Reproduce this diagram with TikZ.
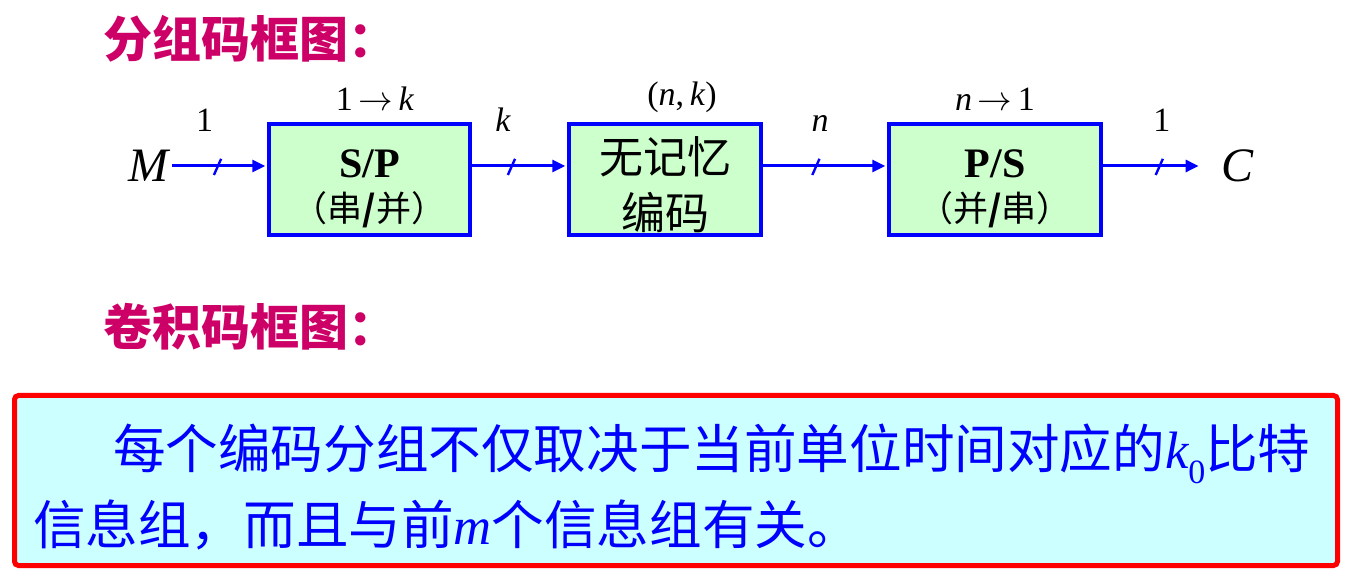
\documentclass[tikz,border=0pt]{standalone}
\usepackage{fontspec}
\usepackage{tikz}
\usetikzlibrary{positioning, arrows.meta}
\newfontfamily\cjk{Noto Sans CJK SC}
\newfontfamily\tnr{Liberation Serif}
\definecolor{titlepink}{RGB}{204,0,102}
\definecolor{blockgreen}{RGB}{204,255,204}
\definecolor{notecyan}{RGB}{204,255,255}

\tikzset{
  block/.style={draw=blue, line width=1.75pt, fill=blockgreen, minimum width=#1,
    minimum height=55.5pt, inner sep=0pt, align=center,
    font=\cjk\fontsize{17.5}{22}\selectfont},
  wire/.style={blue, line width=1.5pt, -{Triangle[length=6.5pt,width=6pt]}},
  slashline/.style={blue, line width=1.2pt},
  buslabel/.style={text=black, font=\tnr\fontsize{17}{17}\selectfont, anchor=base, yshift=17pt},
  toplabel/.style={font=\tnr\fontsize{17}{17}\selectfont, anchor=base},
  heading/.style={anchor=west, text=titlepink, font=\cjk\bfseries\fontsize{24.5}{24.5}\selectfont},
  terminal/.style={font=\tnr\itshape\fontsize{24}{24}\selectfont, inner sep=2pt}
}

\begin{document}
\begin{tikzpicture}[x=0.5pt, y=-0.5pt, shorten >=1pt, on grid]
    \useasboundingbox (0,0) rectangle (1349,582);

    % block code
    \node[heading] (h1) at (96,39) {分组码框图：};

    \node[block=100.5pt] (sp) at (369.5,179.5)
        {\rule{0pt}{23pt}{\tnr\bfseries\fontsize{21}{22}\selectfont S/P}\\（串{\bfseries /}并）};
    \node[block=96pt, right=147.75pt of sp] (enc)
        {\rule{0pt}{24pt}{\fontsize{22}{22}\selectfont 无记忆}\\[6pt]{\fontsize{22}{22}\selectfont 编码}};
    \node[block=106pt, right=165pt of enc] (ps)
        {\rule{0pt}{23pt}{\tnr\bfseries\fontsize{21}{22}\selectfont P/S}\\（并{\bfseries /}串）};

    \node[toplabel, xshift=2.75pt, yshift=6pt] (spl) at (sp.north) {1\,$\rightarrow$\,\textit{k}};
    \node[toplabel, xshift=8.5pt, yshift=8.5pt] (encl) at (enc.north) {(\textit{n},\,\textit{k})};
    \node[toplabel, yshift=6pt] (psl) at (ps.north) {\textit{n}\,$\rightarrow$\,1};

    \node[terminal] (M) at (148,166) {M};
    \node[terminal] (C) at (1237,166) {C};

    \draw[wire] (M) -- coordinate[pos=.48] (s1) node[buslabel, pos=.34] {1} (M -| sp.west);
    \draw[wire] (sp.east |- M) -- coordinate[pos=.42] (s2) node[buslabel, pos=.33] {\textit{k}} (enc.west |- M);
    \draw[wire] (enc.east |- M) -- coordinate[pos=.43] (s3) node[buslabel, pos=.46] {\textit{n}} (ps.west |- M);
    \draw[wire, shorten >=9pt] (ps.east |- C) -- coordinate[pos=.5] (s4) node[buslabel, pos=.52] {1} (C);

    \foreach \s in {s1,s2,s3,s4}
        \draw[slashline] ([shift={(-2pt,-4.5pt)}]\s) -- ([shift={(2pt,4.5pt)}]\s);

    % convolutional code
    \node[heading] (h2) at (96,327) {卷积码框图：};

    \node[draw=red, line width=2.5pt, fill=notecyan, rounded corners=2pt, text=blue,
        minimum width=661.5pt, minimum height=85pt, text width=643pt, inner xsep=9.25pt,
        align=left, font=\cjk\fontsize{26.3}{38}\selectfont] (note) at (676,480.5)
        {\rule{0pt}{28.5pt}\hspace*{40pt}每个编码分组不仅取决于当前单位时间对应的{\tnr\itshape k}\raisebox{-.3em}{\tnr\fontsize{17}{17}\selectfont 0}比特\\信息组，而且与前{\tnr\itshape m}个信息组有关。};
\end{tikzpicture}
\end{document}
